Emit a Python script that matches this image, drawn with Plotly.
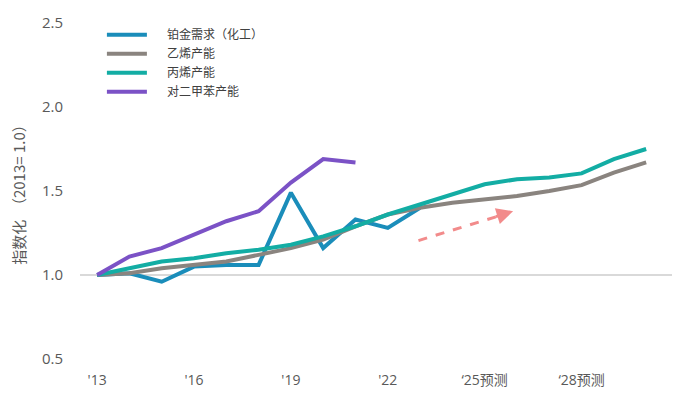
import plotly.graph_objects as go

years = list(range(2013, 2031))
platinum = [1.00, 1.01, 0.96, 1.05, 1.06, 1.06, 1.49, 1.16, 1.33, 1.28, 1.40]
ethylene = [1.00, 1.01, 1.04, 1.06, 1.08, 1.12, 1.16, 1.21, 1.29, 1.36, 1.40, 1.43, 1.45, 1.47, 1.50, 1.535, 1.61, 1.67]
propylene = [1.00, 1.04, 1.08, 1.10, 1.13, 1.15, 1.18, 1.23, 1.29, 1.36, 1.42, 1.48, 1.54, 1.57, 1.58, 1.605, 1.69, 1.75]
px_cap = [1.00, 1.11, 1.16, 1.24, 1.32, 1.38, 1.55, 1.69, 1.67]

names = ["铂金需求（化工）", "乙烯产能", "丙烯产能", "对二甲苯产能"]
colors = ["#1A8DBA", "#8A847F", "#13ADA4", "#7B52C6"]
series = [platinum, ethylene, propylene, px_cap]

tick_vals = [2013, 2016, 2019, 2022, 2025, 2028]
tick_text = ["'13", "'16", "'19", "'22", "‘25预测", "‘28预测"]

arrow_x = [2022.95, 2025.75]
arrow_y = [1.205, 1.37]

font_family = "Open Sans, Noto Sans CJK SC, sans-serif"
pad = "\u2003\u2005"

fig = go.Figure()
for name, color, vals in zip(names, colors, series):
    fig.add_trace(go.Scatter(
        x=years[:len(vals)], y=vals, name=pad + name, mode="lines",
        line=dict(color=color, width=4),
    ))

fig.add_trace(go.Scatter(
    x=arrow_x, y=arrow_y, mode="lines", showlegend=False,
    line=dict(color="#F28B8B", width=3, dash="dash"), hoverinfo="skip",
))
fig.add_annotation(
    x=2025.88, y=1.38, ax=2025.3, ay=1.345, xref="x", yref="y", axref="x", ayref="y",
    text="", showarrow=True, arrowhead=2, arrowsize=1.1, arrowwidth=3, arrowcolor="#F28B8B",
)

fig.add_shape(type="line", xref="paper", yref="y", x0=0, x1=1, y0=1.0, y1=1.0,
              line=dict(color="#D9D9D9", width=2), layer="below")

fig.update_layout(
    width=700, height=406,
    margin=dict(l=80, r=28, t=23, b=47),
    paper_bgcolor="white", plot_bgcolor="white",
    font=dict(family=font_family, color="#595959"),
    showlegend=True,
    legend=dict(
        x=0.037, y=1.008, xanchor="left", yanchor="top",
        font=dict(size=12, color="#404040", family="Noto Sans CJK SC"),
        itemwidth=40, bgcolor="rgba(255,255,255,0)", tracegroupgap=0,
    ),
    xaxis=dict(
        range=[2012.47, 2030.8], tickvals=tick_vals, ticktext=tick_text,
        showgrid=False, zeroline=False, showline=False,
        tickfont=dict(size=14, color="#595959"), ticklabelstandoff=11,
    ),
    yaxis=dict(
        range=[0.5, 2.5], tickvals=[0.5, 1.0, 1.5, 2.0, 2.5],
        ticktext=["0.5", "1.0", "1.5", "2.0", "2.5"],
        showgrid=False, zeroline=False, showline=False,
        tickfont=dict(size=15, color="#595959"), ticklabelstandoff=16,
        title=dict(text="指数化 \u00a0（2013= 1.0）", font=dict(size=15, color="#595959", family="Noto Sans CJK SC"), standoff=12),
    ),
)

fig.write_html("out.html")
